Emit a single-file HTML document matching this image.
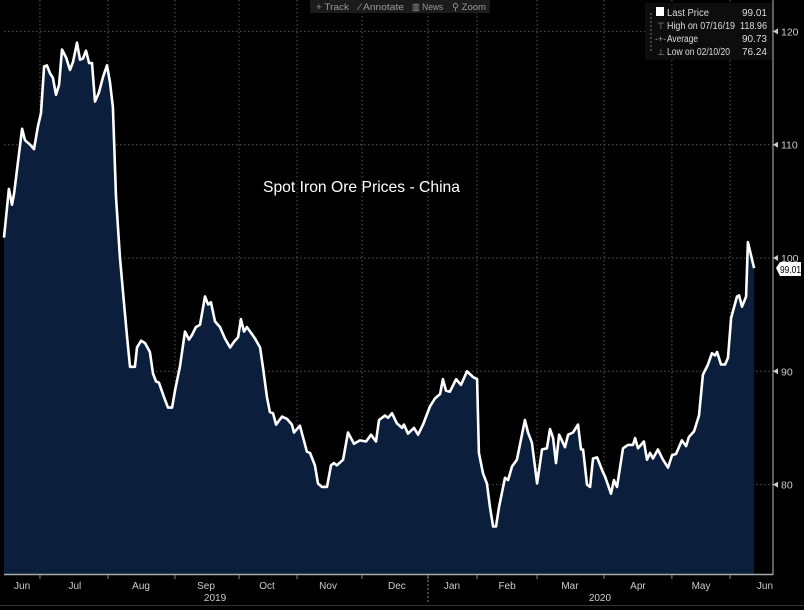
<!DOCTYPE html>
<html><head><meta charset="utf-8">
<style>
html,body{margin:0;padding:0;background:#000;}
svg{display:block;}
text{font-family:"Liberation Sans",sans-serif;}
</style></head>
<body>
<svg id="chart" width="804" height="610" viewBox="0 0 804 610">
<rect x="0" y="0" width="804" height="610" fill="#000"/>
<g id="grid"></g>
<path id="area" fill="#0b1f3d"/>
<path id="line" fill="none" stroke="#fff" stroke-width="2.6" stroke-linejoin="round"/>
<line x1="773" y1="0" x2="773" y2="575" stroke="#bbb" stroke-width="1"/>
<line x1="4" y1="574.5" x2="773" y2="574.5" stroke="#aaa" stroke-width="1.5"/>
<g id="yticks"></g>
<g id="xticks"></g>
<line x1="428" y1="576" x2="428" y2="602" stroke="#888" stroke-dasharray="2,2"/>
<text x="263" y="192" fill="#fff" font-size="16" textLength="197" lengthAdjust="spacingAndGlyphs">Spot Iron Ore Prices - China</text>
<g>
<rect x="310" y="0" width="180" height="13" fill="#1b1b1b"/>
<text x="316" y="10" fill="#999" font-size="9.5" textLength="33" lengthAdjust="spacingAndGlyphs">+ Track</text>
<text x="359" y="10" fill="#999" font-size="9.5" textLength="45" lengthAdjust="spacingAndGlyphs">⁄ Annotate</text>
<text x="412" y="10" fill="#999" font-size="9.5" textLength="31" lengthAdjust="spacingAndGlyphs">▥ News</text>
<text x="452" y="10" fill="#999" font-size="9.5" textLength="34" lengthAdjust="spacingAndGlyphs">⚲ Zoom</text>
</g>
<g>
<rect x="645" y="3" width="127" height="57" fill="#0d0d0d"/>
<line x1="651" y1="13" x2="651" y2="53" stroke="#777" stroke-dasharray="2,2"/>
<rect x="656" y="7" width="8" height="9" fill="#fff"/>
<text x="667" y="16" fill="#ddd" font-size="10" textLength="42" lengthAdjust="spacingAndGlyphs">Last Price</text>
<text x="767" y="16" fill="#ddd" font-size="10" text-anchor="end">99.01</text>
<text x="657" y="29" fill="#999" font-size="9">⊤</text>
<text x="667" y="29" fill="#ddd" font-size="10" textLength="68" lengthAdjust="spacingAndGlyphs">High on 07/16/19</text>
<text x="767" y="29" fill="#ddd" font-size="10" textLength="27" lengthAdjust="spacingAndGlyphs" text-anchor="end">118.96</text>
<text x="655" y="42" fill="#999" font-size="9">-+-</text>
<text x="667" y="42" fill="#ddd" font-size="10" textLength="31" lengthAdjust="spacingAndGlyphs">Average</text>
<text x="767" y="42" fill="#ddd" font-size="10" text-anchor="end">90.73</text>
<text x="657" y="55" fill="#999" font-size="9">⊥</text>
<text x="667" y="55" fill="#ddd" font-size="10" textLength="63" lengthAdjust="spacingAndGlyphs">Low on 02/10/20</text>
<text x="767" y="55" fill="#ddd" font-size="10" text-anchor="end">76.24</text>
</g>
<g>
<path d="M776 268 L780 262 L801 262 L801 276 L780 276 Z" fill="#fff"/>
<text x="790.5" y="273" fill="#000" font-size="10" textLength="21" lengthAdjust="spacingAndGlyphs" text-anchor="middle">99.01</text>
</g>
<line x1="0" y1="605.5" x2="804" y2="605.5" stroke="#333"/>
</svg>
<script>
const days = [0,2.4,3.9,4.9,6.8,8.8,10.2,12.7,14.6,16.5,18,19.5,20.9,22.4,23.8,25.3,26.8,28.2,30.2,32.1,33.6,35.5,37,38.4,39.9,41.4,42.8,44.3,46.2,48.2,50.1,51.6,53,54.5,56.4,58.4,59.9,61.3,63.7,64.7,66.7,68.6,71,72.5,74,75.4,77.9,79.8,81.8,83.2,85.6,88.1,90,91.5,93.4,95.4,97.8,99.3,100.7,102.7,105.1,107.5,110,111.9,113.9,115.3,116.8,118.2,120.2,122.1,124.6,126,128,129.4,130.9,132.4,135.3,137.7,140.1,141.1,144,147.4,148.9,151.3,152.8,154.7,157.2,159.1,160.6,162,165,167.4,170.3,173.2,176.2,178.6,181,182.5,185.4,186.9,188.8,191.2,193.7,194.6,196.6,199.5,201.5,203.9,207.3,209.7,212.2,213.6,215.1,217,220,222.4,225.3,228.2,230.2,231.1,233.1,235,236.5,238,239.4,240.9,243.8,245.3,247.2,249.6,253.5,255,256.9,259.4,261.8,264.2,265.7,267.2,268.6,270.1,273,274.5,276.9,279.3,280.8,281.8,283.7,285.2,286.6,288.6,291,292.5,295.4,296.8,298.3,301.2,303.6,306.1,307.1,308.5,311.4,312.9,314.4,315.8,318.2,320.7,323.1,325.1,327,329.9,331.9,333.3,335.8,338.2,340.1,342.6,344.5,346,347,348.9,350.9,352.3,353.8,356.7,357.7,359.1,361.1,362,365];
const prices = [101.8,106.1,104.7,105.7,108.5,111.4,110.4,110.0,109.6,111.6,112.8,116.9,117.0,116.3,115.9,114.4,115.3,118.4,117.7,116.6,117.3,119.0,117.5,117.6,118.3,117.2,117.2,113.8,114.6,116.0,117.0,115.5,113.3,105.4,100.1,96.0,93.0,90.4,90.4,92.1,92.7,92.5,91.7,89.8,89.1,89.0,87.7,86.8,86.8,88.3,90.4,93.5,92.8,93.2,93.9,94.1,96.6,95.9,96.1,94.4,93.9,92.9,92.1,92.6,93.0,94.6,93.5,93.9,93.4,92.9,92.1,90.4,87.7,86.4,86.3,85.3,86.0,85.8,85.3,84.6,85.2,82.9,82.8,81.7,80.1,79.8,79.8,81.7,81.9,81.7,82.2,84.6,83.6,83.9,83.8,84.4,83.8,85.7,86.1,85.9,86.3,85.4,85.0,85.3,84.5,85.0,84.4,85.3,86.9,87.6,88.0,89.3,88.3,88.2,89.3,88.8,90.0,89.5,89.3,82.8,81.0,80.1,78.0,76.3,76.3,78.0,80.6,80.4,81.6,82.2,85.7,84.6,83.7,80.1,83.1,83.2,84.9,84.1,81.9,84.4,83.3,84.4,84.6,85.3,83.1,83.1,80.0,79.8,82.3,82.4,81.3,80.7,79.2,80.4,79.8,83.2,83.5,83.5,84.1,83.2,83.8,82.2,82.8,82.3,83.1,82.2,81.5,82.6,82.7,83.9,83.4,84.2,84.7,86.1,89.7,90.6,91.6,91.4,91.7,90.6,90.6,91.2,94.7,96.6,96.7,95.7,96.6,101.4,99.1];
const yTicks = [80,90,100,110,120];
const monthLabels = ["Jun","Jul","Aug","Sep","Oct","Nov","Dec","Jan","Feb","Mar","Apr","May","Jun"];
const monthLabelDays = [8.8,34.5,66.7,98.3,128,157.7,191.2,218,244.8,275.4,308.5,339.2,370.3];
const gridDays = [17.5,50.6,83.2,114.4,142.6,174.2,206.3,230.2,259.4,292,325,353.3];
const yearLabels = ["2019","2020"];
const yearCenterDays = [102.7,290];

const NS = "http://www.w3.org/2000/svg";
function xS(d){ return 4 + d * 2.055; }
function yS(v){ return 258 - (v - 100) * 11.33; }
function mk(tag, attrs, parent){ const e=document.createElementNS(NS,tag); for(const k in attrs) e.setAttribute(k,attrs[k]); parent.appendChild(e); return e; }

const grid = document.getElementById('grid');
const yt = document.getElementById('yticks');
yTicks.forEach(v=>{
  const y = yS(v);
  const gl = mk('line',{x1:4,x2:773,y1:y,y2:y,stroke:'#555','stroke-dasharray':'1.5,2.5'},grid);
  
  
  const tk = mk('path',{d:`M773 ${y} l5 -3 v6 Z`,fill:'#ccc'},yt);
  
  
  const t = mk('text',{x:781,y:y+4,fill:'#ccc','font-size':'10.5'},yt);
  t.textContent = v;
  
  
});
const xt = document.getElementById('xticks');
gridDays.forEach(gd=>{
  const x = xS(gd);
  const gl = mk('line',{x1:x,x2:x,y1:0,y2:574,stroke:'#555','stroke-dasharray':'1.5,2.5'},grid);
  
  
  const tk = mk('line',{x1:x,x2:x,y1:575,y2:579,stroke:'#888'},xt);
  
  
});
monthLabels.forEach((m,i)=>{
  const t = mk('text',{x:xS(monthLabelDays[i]),y:589,fill:'#ccc','font-size':'10','text-anchor':'middle'},xt);
  t.textContent = m;
  
  
});
yearLabels.forEach((yl,i)=>{
  const t = mk('text',{x:xS(yearCenterDays[i]),y:601,fill:'#ccc','font-size':'10','text-anchor':'middle'},xt);
  t.textContent = yl;
  
  
});

let d = '';
days.forEach((dd,i)=>{ d += (i?'L':'M') + xS(dd).toFixed(1) + ' ' + yS(prices[i]).toFixed(1) + ' '; });
document.getElementById('line').setAttribute('d', d);
const last = days.length-1;
document.getElementById('area').setAttribute('d', d + `L${xS(days[last]).toFixed(1)} 574 L${xS(days[0]).toFixed(1)} 574 Z`);
</script>
</body></html>
